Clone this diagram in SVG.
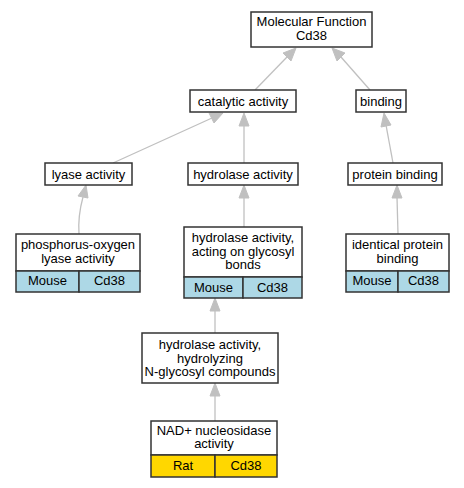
<svg xmlns="http://www.w3.org/2000/svg" width="464" height="488" viewBox="0 0 464 488">
<style>
.box{fill:#fff;stroke:#333;stroke-width:1.5}
.mouse{fill:#add8e6;stroke:#333;stroke-width:1.5}
.rat{fill:#ffd700;stroke:#333;stroke-width:1.5}
text{font-family:"Liberation Sans",Arial,sans-serif;font-size:13px;fill:#000;text-anchor:middle}
.edge{fill:none;stroke:#c0c0c0;stroke-width:1.3}
.head{fill:#c0c0c0;stroke:#c0c0c0}
</style>
<rect width="464" height="488" fill="#fff"/>
<g id="connectors">
<path class="edge" d="M255,90 L287,57"/>
<polygon class="head" points="296,48 291,61 283,53"/>
<path class="edge" d="M370,90 L341,57"/>
<polygon class="head" points="332,48 345,53 337,61"/>
<path class="edge" d="M113,163 L212,118"/>
<polygon class="head" points="223,113 214,123 209,113"/>
<path class="edge" d="M244,163 L244,125"/>
<polygon class="head" points="244,113 249,126 239,126"/>
<path class="edge" d="M393,163 L386,125"/>
<polygon class="head" points="384,113 391,125 381,127"/>
<path class="edge" d="M79,234 C78,220 80,208 83,197"/>
<polygon class="head" points="86,185 88,198 78,196"/>
<path class="edge" d="M244,227 L244,197"/>
<polygon class="head" points="244,185 249,198 239,198"/>
<path class="edge" d="M398,234 L397,197"/>
<polygon class="head" points="397,185 402,198 392,198"/>
<path class="edge" d="M215,333 L215,310"/>
<polygon class="head" points="215,298 220,311 210,311"/>
<path class="edge" d="M215,421 L215,395"/>
<polygon class="head" points="215,383 220,396 210,396"/>
</g>
<g id="n-mf">
<rect class="box" x="251" y="12" width="121" height="35"/>
<text x="311.5" y="26">Molecular Function</text>
<text x="311.5" y="40">Cd38</text>
</g>
<g id="n-catalytic">
<rect class="box" x="190" y="90" width="106" height="22"/>
<text x="243" y="105.5">catalytic activity</text>
</g>
<g id="n-binding">
<rect class="box" x="356" y="90" width="50" height="22"/>
<text x="381" y="105.5">binding</text>
</g>
<g id="n-lyase">
<rect class="box" x="45" y="163" width="87" height="22"/>
<text x="88.5" y="178.5">lyase activity</text>
</g>
<g id="n-hydrolase">
<rect class="box" x="188" y="163" width="110" height="22"/>
<text x="243" y="178.5">hydrolase activity</text>
</g>
<g id="n-protein">
<rect class="box" x="348" y="163" width="94" height="22"/>
<text x="395" y="178.5">protein binding</text>
</g>
<g id="n-phospho">
<rect class="box" x="16" y="234" width="124" height="37"/>
<rect class="mouse" x="16" y="271" width="63" height="21"/>
<rect class="mouse" x="79" y="271" width="61" height="21"/>
<text x="78" y="249">phosphorus-oxygen</text>
<text x="78" y="262.5">lyase activity</text>
<text x="47.5" y="285">Mouse</text>
<text x="109.5" y="285">Cd38</text>
</g>
<g id="n-glycosyl">
<rect class="box" x="184" y="227" width="118" height="50"/>
<rect class="mouse" x="184" y="277" width="59" height="21"/>
<rect class="mouse" x="243" y="277" width="59" height="21"/>
<text x="243" y="242">hydrolase activity,</text>
<text x="243" y="255.5">acting on glycosyl</text>
<text x="243" y="269">bonds</text>
<text x="213.5" y="292">Mouse</text>
<text x="272.5" y="292">Cd38</text>
</g>
<g id="n-identical">
<rect class="box" x="346" y="234" width="103" height="37"/>
<rect class="mouse" x="346" y="271" width="52" height="21"/>
<rect class="mouse" x="398" y="271" width="51" height="21"/>
<text x="397.5" y="249">identical protein</text>
<text x="397.5" y="262.5">binding</text>
<text x="372" y="285">Mouse</text>
<text x="423.5" y="285">Cd38</text>
</g>
<g id="n-hydrolyzing">
<rect class="box" x="142" y="333" width="136" height="50"/>
<text x="210" y="349">hydrolase activity,</text>
<text x="210" y="362.5">hydrolyzing</text>
<text x="210" y="376">N-glycosyl compounds</text>
</g>
<g id="n-nad">
<rect class="box" x="151" y="421" width="126" height="34"/>
<rect class="rat" x="151" y="455" width="64" height="22"/>
<rect class="rat" x="215" y="455" width="62" height="22"/>
<text x="214" y="434.5">NAD+ nucleosidase</text>
<text x="214" y="448">activity</text>
<text x="183" y="470">Rat</text>
<text x="246" y="470">Cd38</text>
</g>
</svg>
